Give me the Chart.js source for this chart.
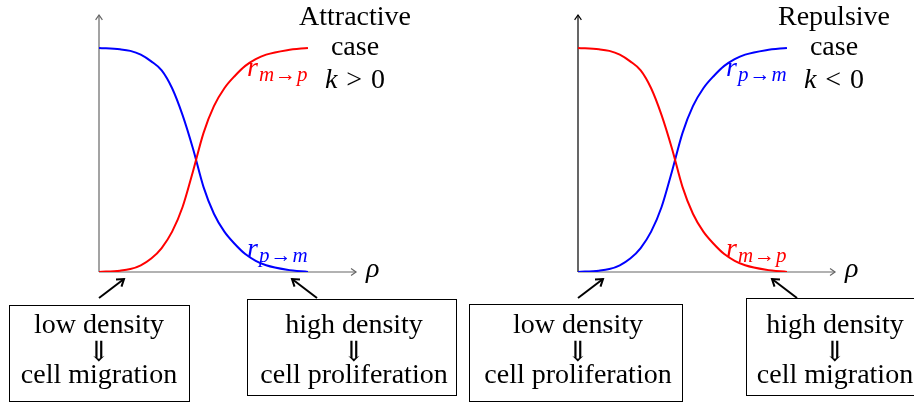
<!DOCTYPE html>
<html>
<head>
<meta charset="utf-8">
<script src="https://cdn.jsdelivr.net/npm/chart.js@4.4.1/dist/chart.umd.min.js"></script>
<style>
  html, body { margin: 0; padding: 0; background: #fff; }
  #wrap { position: relative; width: 914px; height: 403px; }
  .layer { position: absolute; left: 0; top: 0; width: 914px; height: 403px; }
</style>
</head>
<body>
<div id="wrap">
  <div class="layer"><canvas id="attractive"></canvas></div>
  <div class="layer"><canvas id="repulsive"></canvas></div>
</div>
<script>
// density values (rho) where the curves were read
const rho = [0, 0.1, 0.15, 0.2, 0.25, 0.3, 0.35, 0.4, 0.45, 0.5, 0.55, 0.6, 0.65, 0.7, 0.75, 0.8, 0.9, 1.0];

// attractive case (k > 0)
const attrMtoP = [0, 0.006, 0.013, 0.03, 0.06, 0.107, 0.18, 0.29, 0.45, 0.62, 0.74, 0.82, 0.875, 0.92, 0.95, 0.97, 0.99, 1.0];
const attrPtoM = [1.0, 0.994, 0.987, 0.97, 0.94, 0.9, 0.82, 0.7, 0.55, 0.38, 0.26, 0.18, 0.125, 0.08, 0.05, 0.03, 0.01, 0];

// repulsive case (k < 0)
const repMtoP = [1.0, 0.994, 0.987, 0.97, 0.94, 0.9, 0.82, 0.7, 0.55, 0.38, 0.26, 0.18, 0.125, 0.08, 0.05, 0.03, 0.01, 0];
const repPtoM = [0, 0.006, 0.013, 0.03, 0.06, 0.107, 0.18, 0.29, 0.45, 0.62, 0.74, 0.82, 0.875, 0.92, 0.95, 0.97, 0.99, 1.0];

const RED = '#ff0000';
const BLUE = '#0000ff';
const SERIF = "'Liberation Serif', 'DejaVu Serif', serif";
const FS = 28;

const toPoints = ys => ys.map((y, i) => ({ x: rho[i], y: y }));

function drawArrowHead(ctx, x1, y1, x2, y2, size) {
    const a = Math.atan2(y2 - y1, x2 - x1);
    ctx.beginPath();
    ctx.moveTo(x2 - size * Math.cos(a - 0.6), y2 - size * Math.sin(a - 0.6));
    ctx.lineTo(x2, y2);
    ctx.lineTo(x2 - size * Math.cos(a + 0.6), y2 - size * Math.sin(a + 0.6));
    ctx.stroke();
}

function drawRate(ctx, x, y, sub, color) {
    // r with a subscript like m→p
    ctx.fillStyle = color;
    ctx.textAlign = 'left';
    ctx.font = 'italic 28px ' + SERIF;
    ctx.fillText('r', x, y);
    let cx = x + ctx.measureText('r').width + 1;
    const parts = [[sub[0], 'italic '], ['→', ''], [sub[1], 'italic ']];
    parts.forEach(([t, style]) => {
        ctx.font = style + '21px ' + SERIF;
        ctx.fillText(t, cx, y + 5);
        cx += ctx.measureText(t).width + 1;
    });
}

// axes drawn under the curves, annotations over them
const sketchPlugin = {
    id: 'sketch',
    beforeDatasetsDraw(chart, args, o) {
        const { ctx, chartArea } = chart;
        const x0 = chartArea.left, y0 = chartArea.bottom;
        ctx.save();
        ctx.lineWidth = 1.2;
        ctx.strokeStyle = o.yAxisColor;
        ctx.beginPath();
        ctx.moveTo(x0, y0);
        ctx.lineTo(x0, chartArea.top);
        ctx.stroke();
        drawArrowHead(ctx, x0, y0, x0, chartArea.top, 6);
        ctx.strokeStyle = '#666';
        ctx.beginPath();
        ctx.moveTo(x0, y0);
        ctx.lineTo(chartArea.right, y0);
        ctx.stroke();
        drawArrowHead(ctx, x0, y0, chartArea.right, y0, 6);
        ctx.restore();
    },
    afterDraw(chart, args, o) {
        const { ctx, chartArea } = chart;
        const x0 = chartArea.left, y0 = chartArea.bottom;
        ctx.save();
        ctx.fillStyle = '#000';
        ctx.textBaseline = 'alphabetic';

        // rho label
        ctx.font = 'italic ' + FS + 'px ' + SERIF;
        ctx.textAlign = 'left';
        ctx.fillText('ρ', x0 + 267, y0 + 5);

        // title
        const tx = x0 + 256;
        ctx.textAlign = 'center';
        ctx.font = FS + 'px ' + SERIF;
        ctx.fillText(o.title, tx, y0 - 247);
        ctx.fillText('case', tx, y0 - 217);
        // k > 0 with math spacing
        ctx.textAlign = 'left';
        ctx.font = 'italic ' + FS + 'px ' + SERIF;
        const kw = ctx.measureText('k').width;
        ctx.font = FS + 'px ' + SERIF;
        const sw = ctx.measureText(o.sign).width;
        const zw = ctx.measureText('0').width;
        const gap = 9;
        let sx = tx - (kw + sw + zw + 2 * gap) / 2;
        ctx.font = 'italic ' + FS + 'px ' + SERIF;
        ctx.fillText('k', sx, y0 - 184);
        ctx.font = FS + 'px ' + SERIF;
        ctx.fillText(o.sign, sx + kw + gap, y0 - 184);
        ctx.fillText('0', sx + kw + sw + 2 * gap, y0 - 184);

        // curve labels
        drawRate(ctx, x0 + 148, y0 - 196, o.upper.sub, o.upper.color);
        drawRate(ctx, x0 + 148, y0 - 15, o.lower.sub, o.lower.color);

        // boxes with text
        ctx.strokeStyle = '#000';
        ctx.lineWidth = 1;
        o.boxes.forEach(b => {
            ctx.strokeRect(x0 + b.l + 0.5, y0 + b.t + 0.5, b.r - b.l, b.b - b.t);
            ctx.fillStyle = '#000';
            ctx.textAlign = 'center';
            ctx.font = FS + 'px ' + SERIF;
            ctx.fillText(b.lines[0], x0 + b.cx, y0 + 61);
            ctx.fillText('⇓', x0 + b.cx, y0 + 89);
            ctx.fillText(b.lines[1], x0 + b.cx, y0 + 111);
        });

        // pointer arrows
        ctx.lineWidth = 2;
        o.pointers.forEach(p => {
            ctx.beginPath();
            ctx.moveTo(x0 + p[0], y0 + p[1]);
            ctx.lineTo(x0 + p[2], y0 + p[3]);
            ctx.stroke();
            drawArrowHead(ctx, x0 + p[0], y0 + p[1], x0 + p[2], y0 + p[3], 8);
        });
        ctx.restore();
    }
};

function makePanel(canvasId, leftPad, seriesA, seriesB, sketch) {
    const ctx = document.getElementById(canvasId).getContext('2d');
    const config = {
        type: 'line',
        data: {
            datasets: [
                { data: toPoints(seriesA.values), borderColor: seriesA.color, borderWidth: 2, pointRadius: 0, cubicInterpolationMode: 'monotone', fill: false },
                { data: toPoints(seriesB.values), borderColor: seriesB.color, borderWidth: 2, pointRadius: 0, cubicInterpolationMode: 'monotone', fill: false }
            ]
        },
        options: {
            responsive: true,
            maintainAspectRatio: false,
            animation: false,
            layout: { padding: { left: leftPad, right: 914 - leftPad - 257, top: 15, bottom: 131 } },
            scales: {
                x: { type: 'linear', min: 0, max: 1.23, display: false },
                y: { min: 0, max: 1.147, display: false }
            },
            plugins: {
                legend: { display: false },
                tooltip: { enabled: false },
                sketch: sketch
            }
        },
        plugins: [sketchPlugin]
    };
    return new Chart(ctx, config);
}

makePanel('attractive', 99,
    { values: attrMtoP, color: RED },
    { values: attrPtoM, color: BLUE },
    {
        yAxisColor: '#666',
        title: 'Attractive',
        sign: '>',
        upper: { sub: ['m', 'p'], color: RED },
        lower: { sub: ['p', 'm'], color: BLUE },
        boxes: [
            { l: -90, r: 90, t: 33, b: 129, cx: 0, lines: ['low density', 'cell migration'] },
            { l: 148, r: 357, t: 27, b: 123, cx: 255, lines: ['high density', 'cell proliferation'] }
        ],
        pointers: [[0, 26, 25, 7], [218, 26, 193, 7]]
    });

makePanel('repulsive', 578,
    { values: repMtoP, color: RED },
    { values: repPtoM, color: BLUE },
    {
        yAxisColor: '#000',
        title: 'Repulsive',
        sign: '<',
        upper: { sub: ['p', 'm'], color: BLUE },
        lower: { sub: ['m', 'p'], color: RED },
        boxes: [
            { l: -109, r: 104, t: 32, b: 129, cx: 0, lines: ['low density', 'cell proliferation'] },
            { l: 168, r: 345, t: 26, b: 123, cx: 257, lines: ['high density', 'cell migration'] }
        ],
        pointers: [[0, 26, 25, 7], [219, 26, 194, 7]]
    });
</script>
</body>
</html>
